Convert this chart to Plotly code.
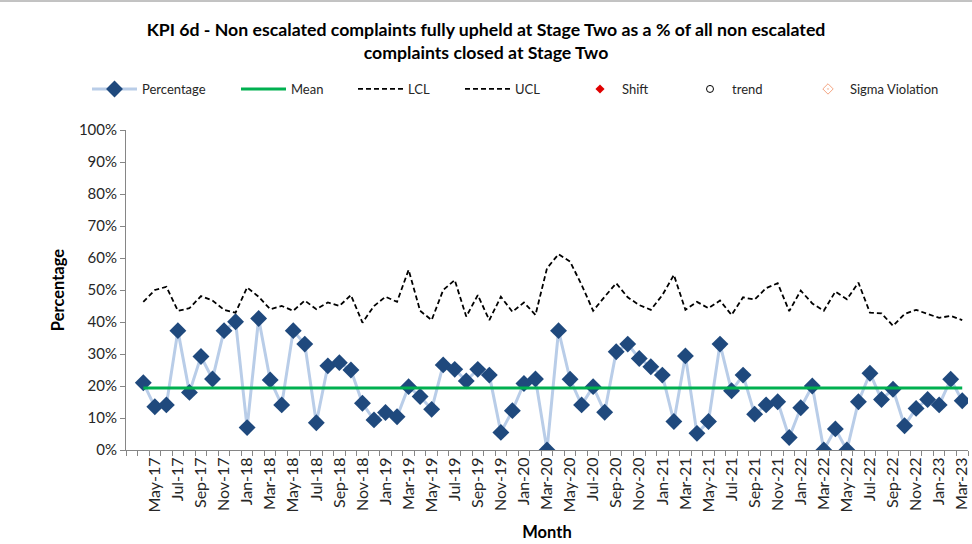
import plotly.graph_objects as go

months = ["Apr-17","May-17","Jun-17","Jul-17","Aug-17","Sep-17","Oct-17","Nov-17","Dec-17",
          "Jan-18","Feb-18","Mar-18","Apr-18","May-18","Jun-18","Jul-18","Aug-18","Sep-18","Oct-18","Nov-18","Dec-18",
          "Jan-19","Feb-19","Mar-19","Apr-19","May-19","Jun-19","Jul-19","Aug-19","Sep-19","Oct-19","Nov-19","Dec-19",
          "Jan-20","Feb-20","Mar-20","Apr-20","May-20","Jun-20","Jul-20","Aug-20","Sep-20","Oct-20","Nov-20","Dec-20",
          "Jan-21","Feb-21","Mar-21","Apr-21","May-21","Jun-21","Jul-21","Aug-21","Sep-21","Oct-21","Nov-21","Dec-21",
          "Jan-22","Feb-22","Mar-22","Apr-22","May-22","Jun-22","Jul-22","Aug-22","Sep-22","Oct-22","Nov-22","Dec-22",
          "Jan-23","Feb-23","Mar-23"]

percentage = [21.0,13.5,14.1,37.3,18.0,29.2,22.2,37.3,40.1,
              7.0,41.1,21.9,14.1,37.3,33.1,8.5,26.3,27.3,25.0,14.6,9.4,
              11.7,10.4,19.8,16.7,12.7,26.6,25.2,21.6,25.2,23.4,5.5,12.3,
              20.8,22.2,0.0,37.3,22.1,14.1,19.8,11.8,30.7,33.1,28.6,26.0,
              23.4,8.9,29.4,5.2,8.9,33.1,18.5,23.4,11.2,14.1,15.1,3.9,
              13.2,20.0,0.0,6.6,0.0,15.1,24.0,15.8,19.0,7.6,13.0,15.8,
              14.1,22.1,15.4]

ucl = [46.3,50.0,51.0,43.5,44.3,48.1,46.7,43.8,42.9,
       50.8,47.9,44.0,45.0,43.5,46.7,44.0,46.1,45.0,48.4,39.8,45.0,
       47.9,46.3,56.3,43.5,40.6,50.0,53.1,41.7,48.4,40.6,47.9,43.2,
       46.1,42.2,56.8,61.2,58.9,51.6,43.5,47.9,52.1,47.7,45.3,43.8,
       48.4,54.7,43.8,46.3,44.3,46.7,42.2,47.7,47.0,50.6,52.1,43.4,
       49.8,45.8,43.5,49.5,47.1,52.3,42.9,42.7,38.8,42.5,43.8,42.5,
       41.3,41.9,40.6]

# LCL lies below the 0% floor of the axis, so nothing of it is visible
lcl = [None] * len(months)

MEAN_VALUE = 19.4
mean = [MEAN_VALUE] * len(months)

# no flagged points in the reference
shift = [None] * len(months)
trend = [None] * len(months)
sigma = [None] * len(months)

label_months = months[1::2]
x = list(range(len(months)))
label_pos = x[1::2]

FONT = "Lato"
W, H = 972, 544
L, R, T, B = 126, 4, 130, 94
PW, PH = W - L - R, H - T - B

fig = go.Figure()

fig.add_trace(go.Scatter(x=x, y=percentage, name="Percentage", mode="lines+markers",
                         line=dict(color="#B9CDE8", width=3),
                         marker=dict(symbol="diamond", size=13, color="#1F497D"),
                         legend="legend"))
fig.add_trace(go.Scatter(x=x, y=mean, name="Mean", mode="lines",
                         line=dict(color="#00B050", width=3), legend="legend2"))
fig.add_trace(go.Scatter(x=x, y=lcl, name="LCL", mode="lines",
                         line=dict(color="black", width=1.8, dash="5px,3px"), legend="legend3"))
fig.add_trace(go.Scatter(x=x, y=ucl, name="UCL", mode="lines",
                         line=dict(color="black", width=1.8, dash="5px,3px"), legend="legend4"))
fig.add_trace(go.Scatter(x=x, y=shift, name="Shift", mode="markers",
                         marker=dict(symbol="diamond", size=7, color="#E00000"), legend="legend5"))
fig.add_trace(go.Scatter(x=x, y=trend, name="trend", mode="markers",
                         marker=dict(symbol="circle-open", size=7, color="black", line=dict(width=1)),
                         legend="legend6"))
fig.add_trace(go.Scatter(x=x, y=sigma, name="Sigma Violation", mode="markers",
                         marker=dict(symbol="diamond-open-dot", size=8, color="#F4A582", line=dict(width=1)),
                         legend="legend7"))

legend_x = [92, 241, 358, 465, 583, 693, 811]
legend_common = dict(orientation="h", xref="container", yref="container", xanchor="left", yanchor="middle",
                     y=1 - 89 / H, font=dict(family=FONT, size=13, color="#262626"),
                     bgcolor="rgba(0,0,0,0)", itemwidth=45, tracegroupgap=0)
layout_legends = {}
names = ["legend", "legend2", "legend3", "legend4", "legend5", "legend6", "legend7"]
for nm, lx in zip(names, legend_x):
    d = dict(legend_common)
    d["x"] = (lx - 5) / W
    if nm in ("legend5", "legend6", "legend7"):
        d["itemwidth"] = 34
    layout_legends[nm] = d

fig.update_layout(
    width=W, height=H,
    margin=dict(l=L, r=R, t=T, b=B, autoexpand=False),
    paper_bgcolor="white", plot_bgcolor="white",
    font=dict(family=FONT, color="#262626"),
    title=dict(text="<b>KPI 6d - Non escalated complaints fully upheld at Stage Two as a % of all non escalated<br>complaints closed at Stage Two</b>",
               x=0.5, xanchor="center", y=1 - 36 / H, yanchor="middle",
               font=dict(family=FONT, size=17.7, color="black")),
    showlegend=True,
    **layout_legends,
)

fig.update_xaxes(range=[-1.5, len(months) - 0.5], tickmode="array", tickvals=label_pos, ticktext=label_months,
                 tickangle=-90, ticks="", showgrid=False, zeroline=False, automargin=False,
                 ticklabeloverflow="allow",
                 showline=True, linecolor="#868686", linewidth=1,
                 tickfont=dict(family=FONT, size=16, color="#262626"),
                 minor=dict(tickmode="linear", tick0=-1.5, dtick=1, ticks="outside", ticklen=5,
                            tickcolor="#868686", showgrid=False),
                 title=dict(text="<b>Month</b>", font=dict(family=FONT, size=16.5, color="black"), standoff=14))
fig.update_yaxes(range=[0, 100], tickmode="linear", tick0=0, dtick=10, ticksuffix="%",
                 ticks="outside", ticklen=5, tickcolor="#868686", showgrid=False, zeroline=False, automargin=False,
                 showline=True, linecolor="#868686", linewidth=1,
                 tickfont=dict(family=FONT, size=15, color="#262626"),
                 title=dict(text="<b>Percentage</b>", font=dict(family=FONT, size=16.5, color="black"), standoff=10))

fig.add_shape(type="line", xref="paper", yref="paper", x0=-L / PW, x1=1 + R / PW, y0=1 + (T - 1) / PH, y1=1 + (T - 1) / PH,
              line=dict(color="#868686", width=1))

fig.write_html("out.html", config={"displayModeBar": False},
               post_script="document.body.style.margin='0';document.body.style.overflow='hidden';")
